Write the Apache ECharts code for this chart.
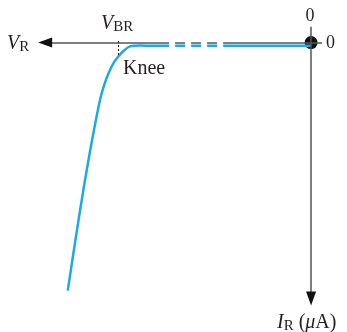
<!DOCTYPE html>
<html>
<head>
<meta charset="utf-8">
<script src="https://cdn.jsdelivr.net/npm/echarts@6/dist/echarts.min.js"></script>
<style>
html,body{margin:0;padding:0;background:#fff;}
#chart{width:347px;height:332px;}
</style>
</head>
<body>
<div id="chart"></div>
<script>
// reverse characteristic: x = V_R (grows to the left), y = I_R (grows downward)
var flatPart = [[0, 1.2], [32.2, 1.2]];
var brokenPart = [[34.4, 1.2], [49.8, 1.2]];
var kneeCurve = [[52, 1.2], [58, 1.2], [62.6, 1.15], [66.3, 1.45], [68.7, 3.24], [70.6, 5.34], [72.4, 7.94],
	[74.2, 11.76], [75.9, 16.6], [77.3, 21.9], [80.2, 37.2], [83.1, 54.4], [86.2, 74.6], [89.1, 94.5]];
var vBreakdown = 70.6;
var tickLabels = ['0', '0'];

var chart = echarts.init(document.getElementById('chart'));

var serif = 'Liberation Serif';
var ink = '#231f20';
var axisGray = '#555555';
var blue = '#1ba9e8';

//轴线 pieces (gray, with the broken part)
function seg(a, b, arrow){
	return [
		{coord: a, symbol: 'none'},
		{coord: b, symbol: arrow ? 'triangle' : 'none', symbolSize: [10, 14]}
	];
}

// rich styles for labels with subscripts
var richStyle = {
	m: {fontFamily: serif, fontStyle: 'italic', fontSize: 20, fill: ink},
	s: {fontFamily: serif, fontSize: 15, padding: [7, 0, 0, 0], fill: ink},
	n: {fontFamily: serif, fontSize: 20, fill: ink},
	t: {fontFamily: serif, fontSize: 18, fill: ink}
};

var option = {
	animation: false,
	grid: {left: 38, right: 25, top: 26.8, bottom: 27},
	xAxis: {type: 'value', min: -4, max: 100, inverse: true, show: false},
	yAxis: {type: 'value', min: -6, max: 100, inverse: true, show: false},
	series: [
		{
			type: 'line', data: [], silent: true,
			markLine: {
				silent: true, animation: false, symbol: ['none', 'none'],
				label: {show: false},
				lineStyle: {color: axisGray, width: 1.5, type: 'solid'},
				emphasis: {disabled: true},
				data: [
					seg([52, 0], [97.4, 0], false),
					seg([-4, 0], [32.2, 0], false),
					seg([0, -6], [0, 97.5], false)
				]
			}
		},
		{
			// arrow heads (black)
			type: 'line', data: [], silent: true,
			markLine: {
				silent: true, animation: false, symbol: ['none', 'none'],
				label: {show: false},
				lineStyle: {color: '#111', width: 1.5, type: 'solid'},
				emphasis: {disabled: true},
				data: [
					seg([96.6, 0], [97.4, 0], true),
					seg([0, 96.7], [0, 97.5], true)
				]
			}
		},
		{
			type: 'line', data: [], silent: true,
			markLine: {
				silent: true, animation: false, symbol: ['none', 'none'],
				label: {show: false},
				lineStyle: {color: axisGray, width: 1.5, type: [10, 6]},
				emphasis: {disabled: true},
				data: [seg([49.8, 0], [34.4, 0], false)]
			}
		},
		{
			// knee marker
			type: 'line', data: [], silent: true,
			markLine: {
				silent: true, animation: false, symbol: ['none', 'none'],
				label: {show: false},
				lineStyle: {color: ink, width: 1, type: [2, 2]},
				emphasis: {disabled: true},
				data: [seg([vBreakdown, -0.6], [vBreakdown, 5.3], false)]
			}
		},
		{
			type: 'line', data: kneeCurve, smooth: 0.35, showSymbol: false, silent: true,
			lineStyle: {color: blue, width: 2.5}
		},
		{
			type: 'line', data: brokenPart, showSymbol: false, silent: true,
			lineStyle: {color: blue, width: 2.5, type: [10, 6]}
		},
		{
			type: 'line', data: flatPart, showSymbol: false, silent: true,
			lineStyle: {color: blue, width: 2.5}
		},
		{
			type: 'scatter', data: [[0, 0]], symbolSize: 13, silent: true,
			itemStyle: {color: '#111', opacity: 1}
		}
	],
	graphic: [
		{type: 'text', style: {x: 7, y: 44, verticalAlign: 'middle', text: '{m|V}{s|R}', rich: richStyle}},
		{type: 'text', style: {x: 101, y: 23.5, verticalAlign: 'middle', text: '{m|V}{s|BR}', rich: richStyle}},
		{type: 'text', style: {x: 123, y: 69, verticalAlign: 'middle', text: '{n|Knee}', rich: richStyle}},
		{type: 'text', style: {x: 310, y: 16, align: 'center', verticalAlign: 'middle', text: '{t|' + tickLabels[0] + '}', rich: richStyle}},
		{type: 'text', style: {x: 326, y: 43, verticalAlign: 'middle', text: '{t|' + tickLabels[1] + '}', rich: richStyle}},
		{type: 'text', style: {x: 277, y: 323, verticalAlign: 'middle', text: '{m|I}{s|R}{n| (}{m|μ}{n|A)}', rich: richStyle}}
	]
};

chart.setOption(option);
</script>
</body>
</html>
